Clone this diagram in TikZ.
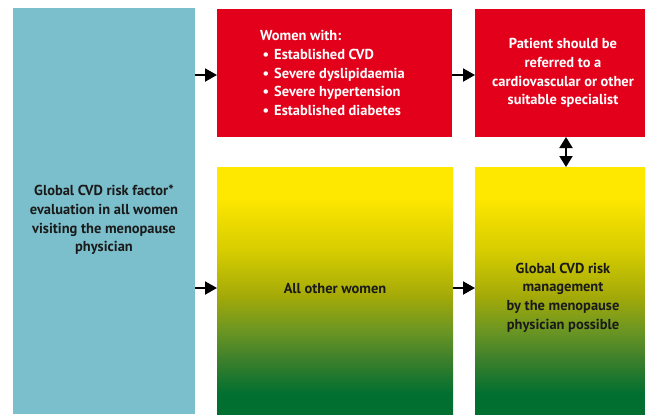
\documentclass[tikz,border=0pt]{standalone}
\usepackage{fontspec}
\setmainfont{PT Sans}
\usetikzlibrary{arrows.meta}
\definecolor{boxblue}{HTML}{7BBFCC}
\definecolor{boxred}{HTML}{E2001A}
\definecolor{gyellow}{HTML}{FFE800}
\definecolor{ggold}{HTML}{D6CC00}
\definecolor{golive}{HTML}{A4AA08}
\definecolor{gmid}{HTML}{6C9622}
\definecolor{gdark}{HTML}{3C7F2C}
\definecolor{ggreen}{HTML}{006F30}
\definecolor{txtdark}{HTML}{1A1A1A}
\pgfdeclareverticalshading{yellowgreen}{100bp}{color(0bp)=(ggreen); color(29bp)=(ggreen); color(36bp)=(gdark); color(42bp)=(gmid); color(49bp)=(golive); color(58bp)=(ggold); color(69bp)=(gyellow); color(100bp)=(gyellow)}
\tikzset{
  panel/.style={draw=none, anchor=north west, inner sep=0pt, outer sep=0pt},
  txt/.style={font=\bfseries\fontsize{14.5}{18.7}\selectfont, align=center, inner sep=0pt},
  arr/.style={line width=2bp, -{Triangle[length=12bp,width=13bp]}},
  darr/.style={line width=2bp, {Triangle[length=11bp,width=13bp]}-{Triangle[length=11bp,width=13bp]}}
}
\begin{document}
\begin{tikzpicture}[x=1bp,y=-1bp]
\useasboundingbox (0,0) rectangle (645,414);
% boxes
\node[panel, fill=boxblue, minimum width=182bp, minimum height=406bp] (blue) at (13,8) {};
\node[panel, fill=boxred, minimum width=235bp, minimum height=128bp] (red1) at (217,9) {};
\node[panel, fill=boxred, minimum width=170bp, minimum height=128bp] (red2) at (475,9) {};
\node[panel, shading=yellowgreen, minimum width=236bp, minimum height=247bp] (yel1) at (217,167) {};
\node[panel, shading=yellowgreen, minimum width=170bp, minimum height=247bp] (yel2) at (475,167) {};
% texts
\node[txt, text=txtdark] (tblue) at ([yshift=-9bp]blue.center) {Global CVD risk factor*\\ evaluation in all women\\ visiting the menopause\\ physician};
\node[txt, text=white, align=left] (tred1) at ([xshift=-2bp]red1.center) {Women with:\\
\hspace{2.5bp}\textbullet\hspace{5bp}Established CVD\\
\hspace{2.5bp}\textbullet\hspace{5bp}Severe dyslipidaemia\\
\hspace{2.5bp}\textbullet\hspace{5bp}Severe hypertension\\
\hspace{2.5bp}\textbullet\hspace{5bp}Established diabetes};
\node[txt, text=white] (tred2) at ([xshift=3bp]red2.center) {Patient should be\\ referred to a\\ cardiovascular or other\\ suitable specialist};
\node[txt, text=txtdark] (tyel1) at ([yshift=2.5bp]yel1.center) {All other women};
\node[txt, text=txtdark] (tyel2) at ([xshift=3bp,yshift=-7bp]yel2.center) {Global CVD risk\\ management\\ by the menopause\\ physician possible};
% connectors
\draw[arr] ([yshift=-2bp]blue.east |- red1.west) -- ([yshift=-2bp]red1.west);
\draw[arr] ([yshift=2.5bp]blue.east |- yel1.west) -- ([yshift=2.5bp]yel1.west);
\draw[arr] ([yshift=-2bp]red1.east) -- ([yshift=-2bp]red2.west);
\draw[arr] ([yshift=2.5bp]yel1.east) -- ([yshift=2.5bp]yel2.west);
\draw[darr] ([xshift=6bp]red2.south) -- ([xshift=6bp]red2.south |- yel2.north);
\end{tikzpicture}
\end{document}
